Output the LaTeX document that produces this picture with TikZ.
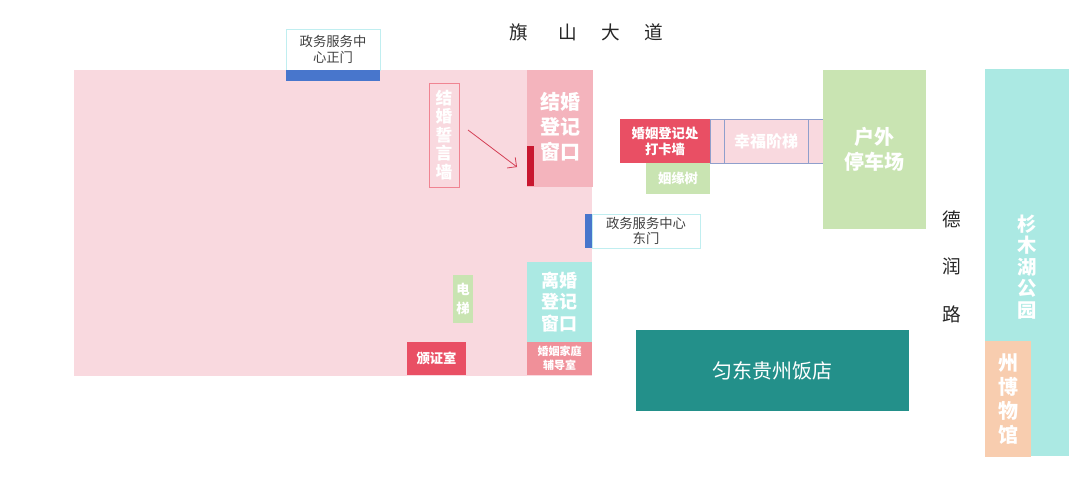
\documentclass[tikz,border=0pt]{standalone}
\usepackage{fontspec}
\setmainfont{Noto Sans CJK SC}
\usetikzlibrary{arrows.meta}

\definecolor{hallpink}{HTML}{F9D9DF}
\definecolor{windowrose}{HTML}{F4B4BD}
\definecolor{barred}{HTML}{C8172F}
\definecolor{wallred}{HTML}{E94F64}
\definecolor{arrowred}{HTML}{D43F55}
\definecolor{deskrose}{HTML}{F09099}
\definecolor{hotelteal}{HTML}{23908A}
\definecolor{parkaqua}{HTML}{ABE9E3}
\definecolor{treegreen}{HTML}{C9E4B2}
\definecolor{museumpeach}{HTML}{F8CDAF}
\definecolor{gateblue}{HTML}{4876CC}
\definecolor{gateline}{HTML}{C0EEF0}
\definecolor{stairline}{HTML}{8F9FCC}

\newlength{\pxu}
\setlength{\pxu}{0.75pt}

\begin{document}
\begin{tikzpicture}[x=\pxu, y=-\pxu]

\useasboundingbox (0,0) rectangle (1080,480);

% styles
\pgfkeys{/room/.style 2 args={anchor=north west, inner sep=0, outer sep=0, align=center, text=white, minimum width=#1\pxu, minimum height=#2\pxu}} % base style for rectangles
\pgfkeys{/roomtext/.style={inner sep=0, align=center, text=white}} % labels placed apart from their rectangle
\pgfkeys{/large/.style={node font=\bfseries\fontsize{15}{18.75}\selectfont}} % window labels
\pgfkeys{/small/.style={node font=\bfseries\fontsize{10}{12}\selectfont}} % small room labels
\pgfkeys{/gate/.style={text=black!75, draw=gateline, line width=0.6pt, fill=white, node font=\fontsize{10}{12}\selectfont}} % gate captions
\pgfkeys{/road/.style={inner sep=0, text=black!85, node font=\fontsize{14}{16}\selectfont}} % road names

% main hall
\node[/room={518}{306}, fill=hallpink] (hall) at (74,70) {};

% gates
\node[/room={94}{41}, /gate] (northgate) at (286,29) {政务服务中\\[-0.5pt]心正门};
\node[/room={94}{11}, fill=gateblue] (northbar) at (286,70) {};
\node[/room={108}{34}, /gate] (eastgate) at (592,214) {政务服务中心\\[-0.5pt]东门};
\node[/room={7}{34}, fill=gateblue] (eastbar) at (585,214) {};

% marriage window and vow wall
\node[/room={66}{117}, fill=windowrose] (marry) at (527,70) {};
\node[/roomtext, /large] (marrytext) at (560,127) {结婚\\登记\\窗口};
\node[/room={7}{40}, fill=barred] (marrybar) at (527,146) {};
\node[/room={30}{104}, draw=wallred!70, line width=0.6pt, node font=\bfseries\fontsize{12.5}{13.9}\selectfont] (vow) at (429,83) {结\\婚\\誓\\言\\墙};
\coordinate (arrowa) at (468,130);
\coordinate (arrowb) at (517,167);
\draw[arrowred, line width=0.6pt, -{Straight Barb[length=5pt]}] (arrowa) -- (arrowb);

% divorce window and rooms below
\node[/room={65}{80}, fill=parkaqua, node font=\bfseries\fontsize{13.5}{16.3}\selectfont] (divorce) at (527,262) {离婚\\登记\\窗口};
\node[/room={65}{33}, fill=deskrose, node font=\bfseries\fontsize{8.25}{10.2}\selectfont] (counsel) at (527,342) {婚姻家庭\\辅导室};
\node[/room={20}{48}, fill=treegreen, node font=\bfseries\fontsize{10}{14.5}\selectfont] (lift) at (453,275) {电\\梯};
\node[/room={59}{33}, /small, fill=wallred] (award) at (407,342) {颁证室};

% stairs and photo wall
\node[/room={113}{44}, fill=hallpink, draw=stairline, line width=0.6pt] (stairs) at (710,119) {};
\node[/room={84}{44}, fill=hallpink, draw=stairline, line width=0.6pt, node font=\bfseries\fontsize{12}{14}\selectfont] (stairsin) at (724,119) {幸福阶梯};
\node[/room={90}{44}, /small, fill=wallred] (photo) at (620,119) {婚姻登记处\\打卡墙};
\node[/room={64}{31}, /small, fill=treegreen] (tree) at (646,163) {姻缘树};

% outside
\node[/room={103}{159}, /large, fill=treegreen] (parking) at (823,70) {户外\\停车场};
\node[/room={273}{81}, fill=hotelteal, node font=\fontsize{15}{18}\selectfont] (hotel) at (636,330) {匀东贵州饭店};
\node[/room={84}{387}, fill=parkaqua] (park) at (985,69) {};
\node[/roomtext, node font=\bfseries\fontsize{14.5}{16.2}\selectfont] (parktext) at (1027,267) {杉\\木\\湖\\公\\园};
\node[/room={46}{116}, fill=museumpeach, node font=\bfseries\fontsize{15}{18.2}\selectfont] (museum) at (985,341) {州\\博\\物\\馆};

% road names
\foreach \x/\c [count=\j] in {519/旗,568/山,611/大,654/道} {
\node[/road] (north\j) at (\x,32) {\c};
}
\foreach \y/\c [count=\j] in {219/德,266/润,314/路} {
\node[/road] (east\j) at (952,\y) {\c};
}

\end{tikzpicture}
\end{document}
